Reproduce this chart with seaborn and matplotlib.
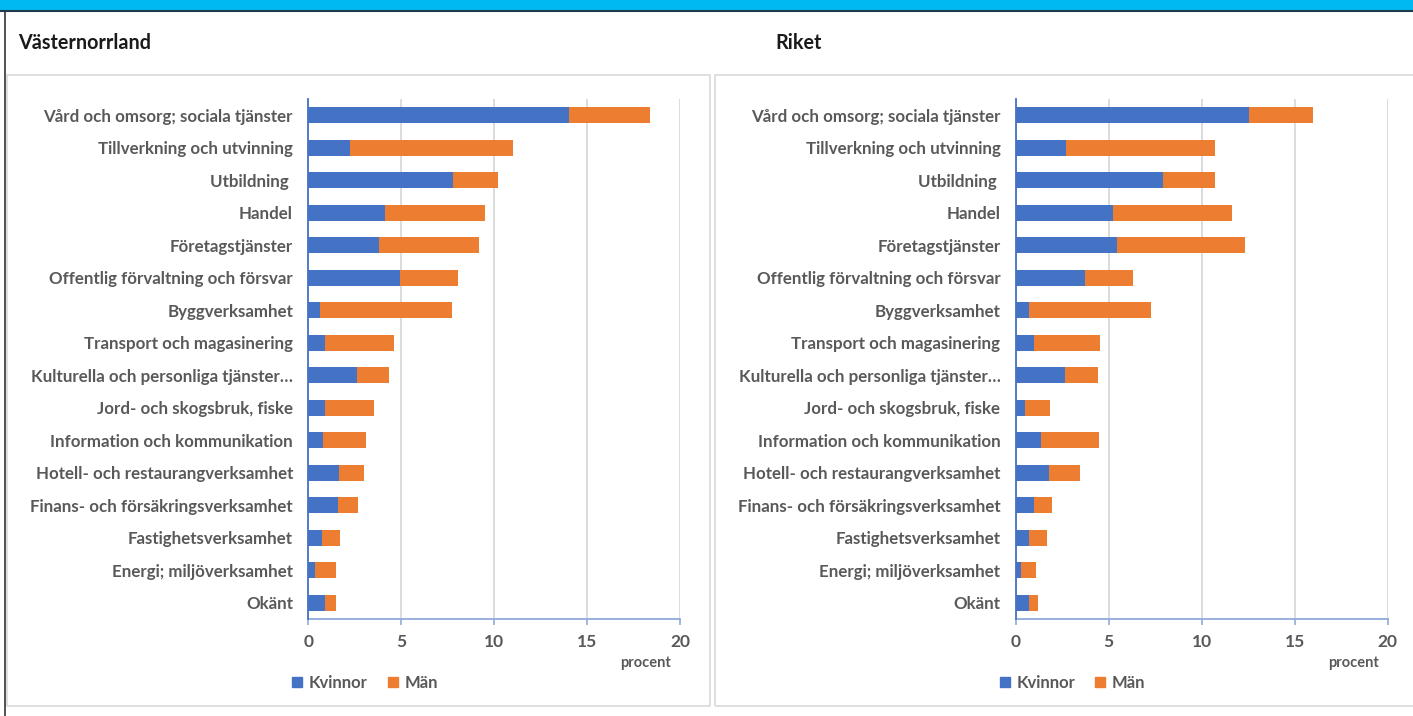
import matplotlib
matplotlib.use("Agg")
import matplotlib.pyplot as plt
import seaborn as sns
import pandas as pd
from matplotlib.patches import Rectangle
from matplotlib.lines import Line2D

categories = [
    "Vård och omsorg; sociala tjänster",
    "Tillverkning och utvinning",
    "Utbildning ",
    "Handel",
    "Företagstjänster",
    "Offentlig förvaltning och försvar",
    "Byggverksamhet",
    "Transport och magasinering",
    "Kulturella och personliga tjänster…",
    "Jord- och skogsbruk, fiske",
    "Information och kommunikation",
    "Hotell- och restaurangverksamhet",
    "Finans- och försäkringsverksamhet",
    "Fastighetsverksamhet",
    "Energi; miljöverksamhet",
    "Okänt",
]

vn_kvinnor = [14.03, 2.24, 7.78, 4.12, 3.80, 4.93, 0.65, 0.90, 2.61, 0.90, 0.79, 1.65, 1.58, 0.74, 0.34, 0.90]
vn_man = [4.34, 8.78, 2.44, 5.36, 5.38, 3.10, 7.08, 3.72, 1.74, 2.63, 2.33, 1.36, 1.08, 0.98, 1.17, 0.61]

riket_kvinnor = [12.53, 2.70, 7.90, 5.23, 5.43, 3.73, 0.73, 0.98, 2.65, 0.48, 1.34, 1.77, 0.98, 0.73, 0.27, 0.73]
riket_man = [3.44, 8.00, 2.80, 6.40, 6.91, 2.58, 6.56, 3.57, 1.79, 1.38, 3.15, 1.70, 0.99, 0.97, 0.81, 0.45]

panel_titles = ["Västernorrland", "Riket"]
series_names = ["Kvinnor", "Män"]
xticks = [0, 5, 10, 15, 20]
unit_label = "procent"

BLUE = "#4472C4"
ORANGE = "#ED7D31"
GRAY_TXT = "#595959"
GRID = "#D9D9D9"

sns.set_theme(style="white")
plt.rcParams["font.family"] = ["Lato", "DejaVu Sans"]

W, H = 1413, 716
fig = plt.figure(figsize=(W / 100, H / 100), dpi=100)
fig.patch.set_facecolor("white")

def fx(px):
    return px / W

def fy(py):
    return 1 - py / H

# Banner and frame
fig.patches.append(Rectangle((0, fy(10.5)), 1, 10.5 / H, transform=fig.transFigure,
                             facecolor="#00B9F2", edgecolor="none", zorder=0))
fig.lines.append(Line2D([0, 1], [fy(11), fy(11)], transform=fig.transFigure, color="#1F3A4A", lw=1.5))
fig.lines.append(Line2D([fx(4.5), fx(4.5)], [0, fy(11)], transform=fig.transFigure, color="#333333", lw=1.2))
for x0, x1 in [(7, 710.5), (714.5, 1420)]:
    fig.patches.append(Rectangle((fx(x0), fy(705.5)), fx(x1 - x0), (705.5 - 75.3) / H,
                                 transform=fig.transFigure, facecolor="none",
                                 edgecolor=GRID, lw=1.2))

fig.text(fx(18), fy(43), panel_titles[0], fontsize=14.2, fontweight="bold", color="#1a1a1a", va="center", ha="left")
fig.text(fx(775), fy(43), panel_titles[1], fontsize=14.2, fontweight="bold", color="#1a1a1a", va="center", ha="left")

ax_lefts = [308.3, 1015.7]
ax_width = 372.0
ax_top, ax_bot = 99, 619

datasets = [(vn_kvinnor, vn_man), (riket_kvinnor, riket_man)]

for i, (kv, ma) in enumerate(datasets):
    ax = fig.add_axes([fx(ax_lefts[i]), fy(ax_bot), fx(ax_width), (ax_bot - ax_top) / H])
    df = pd.DataFrame({"Bransch": categories, "Kvinnor": kv, "Män": ma})
    df["Total"] = df["Kvinnor"] + df["Män"]
    sns.barplot(data=df, y="Bransch", x="Total", color=ORANGE, orient="h",
                width=0.48, ax=ax, saturation=1, zorder=3, edgecolor="none")
    sns.barplot(data=df, y="Bransch", x="Kvinnor", color=BLUE, orient="h",
                width=0.48, ax=ax, saturation=1, zorder=4, edgecolor="none")
    ax.set_xlim(0, 20)
    ax.set_ylim(15.5, -0.5)
    ax.set_xticks(xticks)
    ax.set_xticklabels([str(t) for t in xticks])
    ax.set_xlabel("")
    ax.set_ylabel("")
    ax.grid(axis="x", color=GRID, lw=1.3, zorder=0)
    ax.grid(axis="y", visible=False)
    for s in ["top", "right"]:
        ax.spines[s].set_visible(False)
    ax.spines["left"].set_color(BLUE)
    ax.spines["left"].set_linewidth(1.3)
    ax.spines["left"].set_zorder(5)
    ax.spines["bottom"].set_color("#8FAADC")
    ax.spines["bottom"].set_linewidth(1.3)
    ax.tick_params(axis="x", direction="out", length=4, width=1.2, color="#8FAADC",
                   labelsize=12.5, labelcolor=GRAY_TXT, pad=7, bottom=True)
    ax.tick_params(axis="y", length=0, labelsize=12.2, labelcolor=GRAY_TXT, pad=11)
    for lab in ax.get_xticklabels() + ax.get_yticklabels():
        lab.set_fontweight("bold")
    ax.annotate(unit_label, xy=(18.15, 0), xycoords=("data", "axes fraction"),
                xytext=(0, -44), textcoords="offset pixels", fontsize=10.5,
                fontweight="bold", color=GRAY_TXT, ha="center", va="center",
                annotation_clip=False)
    handles = [Rectangle((0, 0), 1, 1, color=BLUE), Rectangle((0, 0), 1, 1, color=ORANGE)]
    leg = ax.legend(handles, series_names, loc="center", bbox_to_anchor=(fx(ax_lefts[i] + 57), fy(683)),
                    bbox_transform=fig.transFigure, ncol=2, frameon=False, fontsize=12,
                    handlelength=0.6, handleheight=0.6, handletextpad=0.4, columnspacing=1.2)
    for t in leg.get_texts():
        t.set_color(GRAY_TXT)
        t.set_fontweight("bold")

fig.savefig("out.png", dpi=100)
